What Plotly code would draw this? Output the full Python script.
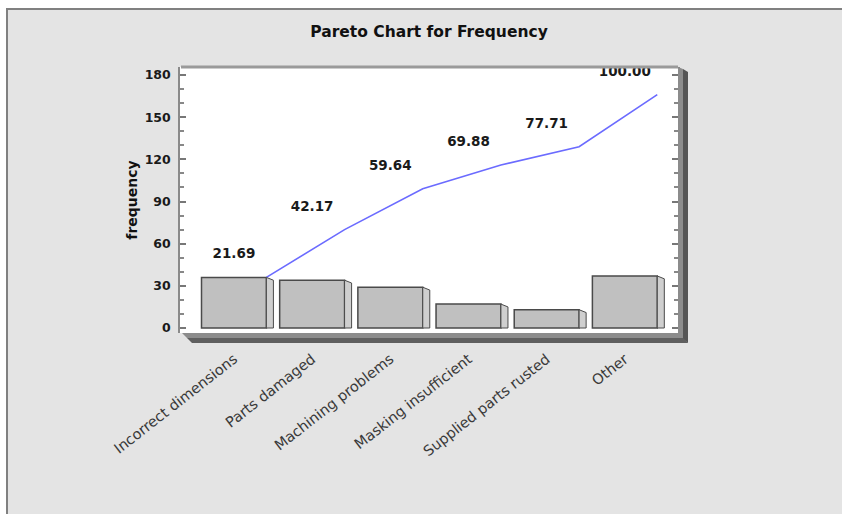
import plotly.graph_objects as go

categories = ["Incorrect dimensions", "Parts damaged", "Machining problems",
              "Masking insufficient", "Supplied parts rusted", "Other"]
counts = [36, 34, 29, 17, 13, 37]
y_ticks = [0, 30, 60, 90, 120, 150, 180]
title_text = "Pareto Chart for Frequency"
y_title = "frequency"

W, H = 842, 514
L, R, T, B = 180, 678, 67, 333
XR = [-0.69, 5.68]
YR = [-3.56, 185.7]

cum = []
s = 0
for c in counts:
    s += c
    cum.append(s)
total = cum[-1]
pct = [100.0 * c / total for c in cum]
xs = list(range(len(categories)))
bar_w = 0.83
half = bar_w / 2

def px(x):
    return (x - L) / (R - L)

def py(y):
    return (B - y) / (B - T)

fig = go.Figure()
fig.add_trace(go.Bar(x=xs, y=counts, width=bar_w,
                     marker=dict(color="#c0c0c0", line=dict(color="#4a4a4a", width=1.5)),
                     showlegend=False, hoverinfo="skip"))

shapes = []
# 3D side faces of bars, derived from the data
for i, v in zip(xs, counts):
    xr = i + half
    path = f"M {xr},0 L {xr},{v} L {xr+0.09},{v-2} L {xr+0.09},0 Z"
    shapes.append(dict(type="path", xref="x", yref="y", path=path,
                       fillcolor="#cfcfcf", line=dict(color="#4a4a4a", width=1), layer="above"))

fig.add_trace(go.Scatter(x=[i + half for i in xs], y=cum, mode="lines",
                         line=dict(color="#6b6bff", width=1.6), showlegend=False, hoverinfo="skip"))
fig.add_trace(go.Scatter(x=xs, y=[c + 16 for c in cum], mode="text",
                         text=[f"{p:.2f}" for p in pct],
                         textfont=dict(family="DejaVu Sans", size=13.5, color="#1a1a1a", weight="bold"),
                         showlegend=False, hoverinfo="skip", cliponaxis=False))

def ppath(pts):
    return "M " + " L ".join(f"{px(a)},{py(b)}" for a, b in pts) + " Z"

# floor
shapes.append(dict(type="path", xref="paper", yref="paper",
                   path=ppath([(182, 333), (680, 333), (684, 338), (187, 338)]),
                   fillcolor="#8c8c8c", line=dict(width=0), layer="above"))
shapes.append(dict(type="path", xref="paper", yref="paper",
                   path=ppath([(187, 338), (684, 338), (688, 343), (192, 343)]),
                   fillcolor="#5f5f5f", line=dict(width=0), layer="above"))
# right wall
shapes.append(dict(type="path", xref="paper", yref="paper",
                   path=ppath([(678, 67), (683, 69), (683, 338), (678, 333)]),
                   fillcolor="#8c8c8c", line=dict(width=0), layer="above"))
shapes.append(dict(type="path", xref="paper", yref="paper",
                   path=ppath([(683, 69), (688, 72), (688, 343), (683, 338)]),
                   fillcolor="#555555", line=dict(width=0), layer="above"))
# top frame
shapes.append(dict(type="line", xref="paper", yref="paper",
                   x0=px(181), x1=px(678), y0=py(67), y1=py(67),
                   line=dict(color="#9a9a9a", width=3), layer="above"))
# white margin outside the image border
shapes.append(dict(type="rect", xref="paper", yref="paper",
                   x0=px(0), x1=px(W + 10), y0=py(-10), y1=py(8),
                   fillcolor="#ffffff", line=dict(width=0)))
shapes.append(dict(type="rect", xref="paper", yref="paper",
                   x0=px(-10), x1=px(6), y0=py(-10), y1=py(H + 10),
                   fillcolor="#ffffff", line=dict(width=0)))
# outer border of the image (top and left edges only)
shapes.append(dict(type="path", xref="paper", yref="paper",
                   path=f"M {px(7)},{py(H + 10)} L {px(7)},{py(9)} L {px(W + 10)},{py(9)}",
                   line=dict(color="#808080", width=2)))

fig.update_layout(
    width=W, height=H,
    margin=dict(l=L, r=W - R, t=T, b=H - B),
    paper_bgcolor="#e4e4e4", plot_bgcolor="#ffffff",
    shapes=shapes,
    title=dict(text=title_text, x=0.5, xref="paper", y=1 - 32 / H, yanchor="middle",
               font=dict(family="DejaVu Sans", size=15.5, color="#111111", weight="bold")),
    xaxis=dict(range=XR, tickmode="array", tickvals=xs, ticktext=categories,
               tickangle=-38, ticks="", showgrid=False, zeroline=False, showline=False,
               tickfont=dict(family="DejaVu Sans", size=14.5, color="#3a3a3a"),
               ticklabelstandoff=14, automargin=False),
    yaxis=dict(range=YR, tickmode="array", tickvals=y_ticks, ticks="inside", ticklen=6,
               tickcolor="#777777", tickwidth=1.5, showgrid=False, zeroline=False,
               showline=True, linecolor="#8a8a8a", linewidth=1.5, mirror="ticks",
               minor=dict(dtick=10, ticks="inside", ticklen=4, tickcolor="#888888", tickwidth=1.5),
               tickfont=dict(family="DejaVu Sans", size=12.5, color="#1a1a1a", weight="bold"),
               ticklabelstandoff=5,
               title=dict(text=y_title, standoff=4,
                          font=dict(family="DejaVu Sans", size=14, color="#111111", weight="bold")),
               automargin=False),
)

fig.write_html("out.html")
